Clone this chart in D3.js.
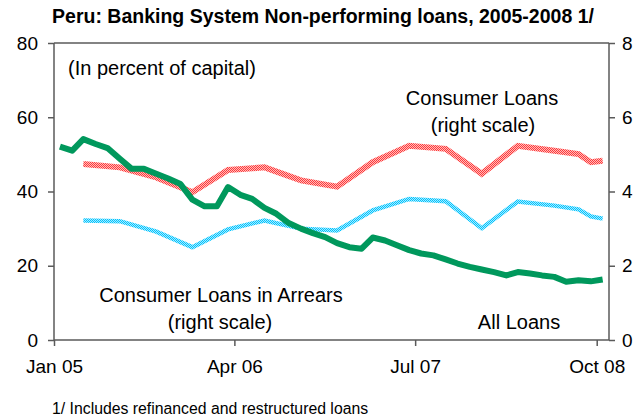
<!DOCTYPE html>
<html>
<head>
<meta charset="utf-8">
<script src="https://cdn.jsdelivr.net/npm/d3@7"></script>
<style>
  html, body { margin: 0; padding: 0; background: #fff; }
  svg { display: block; font-family: "Liberation Sans", Arial, sans-serif; }
</style>
</head>
<body>
<svg id="chart" width="640" height="420"></svg>
<script>
// ---- Data ----
const allLoansStart = "2005-01";
const allLoans = [52.1, 51.0, 54.1, 52.8, 51.7, 48.8, 46.1, 46.1, 44.8, 43.5,
  42.0, 37.8, 36.0, 36.0, 41.2, 39.1, 38.0, 35.6, 34.0, 31.5,
  30.0, 28.8, 27.7, 26.1, 25.0, 24.6, 27.6, 26.8, 25.5, 24.2,
  23.3, 22.8, 21.7, 20.6, 19.7, 19.0, 18.3, 17.4, 18.3, 17.9,
  17.4, 17.0, 15.7, 16.1, 15.8, 16.3];
const consumerMonths = ["2005-03", "2005-06", "2005-09", "2005-12", "2006-03", "2006-06",
  "2006-09", "2006-12", "2007-03", "2007-06", "2007-09", "2007-12", "2008-03",
  "2008-06", "2008-08", "2008-09", "2008-10"];
const consumerLoans = [4.74, 4.65, 4.38, 3.98, 4.58, 4.65, 4.30, 4.13, 4.79, 5.23,
  5.15, 4.48, 5.23, 5.10, 5.01, 4.79, 4.83];
const consumerArrears = [3.22, 3.20, 2.92, 2.50, 2.98, 3.22, 3.00, 2.95, 3.49, 3.80,
  3.74, 3.01, 3.73, 3.62, 3.52, 3.33, 3.27];
const leftTicks = [0, 20, 40, 60, 80];
const rightTicks = [0, 2, 4, 6, 8];
const xTickMonths = ["2005-01", "2006-04", "2007-07", "2008-10"];
const title = "Peru: Banking System Non-performing loans, 2005-2008 1/";
const footnote = "1/ Includes refinanced and restructured loans";

// ---- Setup ----
const parse = d3.timeParse("%Y-%m");
const mid = d => d3.timeDay.offset(d, 15);
const svg = d3.select("#chart");
const L = 54, R = 609, T = 43, B = 340;

const x = d3.scaleTime().domain([parse("2005-01"), parse("2008-11")]).range([L, R]);
const yL = d3.scaleLinear().domain([0, 80]).range([B, T]);
const yR = d3.scaleLinear().domain([0, 8]).range([B, T]);

const allDates = d3.timeMonth.range(parse(allLoansStart), d3.timeMonth.offset(parse(allLoansStart), allLoans.length));
const green = allLoans.map((v, i) => ({ d: mid(allDates[i]), v }));
const red = consumerLoans.map((v, i) => ({ d: mid(parse(consumerMonths[i])), v }));
const cyan = consumerArrears.map((v, i) => ({ d: mid(parse(consumerMonths[i])), v }));

// ---- Patterns ----
const defs = svg.append("defs");
function checker(id, c1, c2) {
  const p = defs.append("pattern").attr("id", id).attr("patternUnits", "userSpaceOnUse")
    .attr("width", 2).attr("height", 2);
  p.append("rect").attr("width", 2).attr("height", 2).attr("fill", c2);
  p.append("rect").attr("width", 1).attr("height", 1).attr("fill", c1);
  p.append("rect").attr("x", 1).attr("y", 1).attr("width", 1).attr("height", 1).attr("fill", c1);
}
checker("redCheck", "#ff3a3a", "#ffbcbc");
checker("cyanCheck", "#00c4ff", "#a8eaff");

// ---- Title ----
svg.append("text").attr("x", 323).attr("y", 23).attr("text-anchor", "middle")
  .attr("font-size", 19.5).attr("font-weight", "bold").attr("fill", "#000").text(title);

// ---- Axes ----
const axisColor = "#5a5a5a";
const gL = svg.append("g").attr("transform", `translate(${L},0)`)
  .call(d3.axisLeft(yL).tickValues(leftTicks).tickSize(6).tickPadding(10));
const gR = svg.append("g").attr("transform", `translate(${R},0)`)
  .call(d3.axisRight(yR).tickValues(rightTicks).tickSize(6).tickPadding(7));
const gB = svg.append("g").attr("transform", `translate(0,${B})`)
  .call(d3.axisBottom(x).tickValues(xTickMonths.map(parse)).tickFormat(d3.timeFormat("%b %y")).tickSize(6).tickPadding(14));
[gL, gR, gB].forEach(g => {
  g.select(".domain").attr("stroke", axisColor).attr("stroke-width", 1.5);
  g.selectAll(".tick line").attr("stroke", axisColor).attr("stroke-width", 1.5);
  g.selectAll(".tick text").attr("font-size", 19).attr("fill", "#000")
    .attr("font-family", "'Liberation Sans', Arial, sans-serif");
});
gL.select(".domain").attr("d", `M0,${T}V${B}`);
gR.select(".domain").attr("d", `M0,${T}V${B}`);
gB.select(".domain").attr("d", `M${L},0H${R}`);
svg.append("line").attr("x1", L).attr("x2", R).attr("y1", T).attr("y2", T)
  .attr("stroke", axisColor).attr("stroke-width", 1.5);

// ---- Lines ----
const lineL = d3.line().x(d => x(d.d)).y(d => yL(d.v));
const lineR = d3.line().x(d => x(d.d)).y(d => yR(d.v));
svg.append("path").datum(red).attr("d", lineR).attr("fill", "none")
  .attr("stroke", "url(#redCheck)").attr("stroke-width", 6).attr("stroke-linejoin", "miter");
svg.append("path").datum(cyan).attr("d", lineR).attr("fill", "none")
  .attr("stroke", "url(#cyanCheck)").attr("stroke-width", 4.5).attr("stroke-linejoin", "miter");
svg.append("path").datum(green).attr("d", lineL).attr("fill", "none")
  .attr("stroke", "#00985c").attr("stroke-width", 6).attr("stroke-linejoin", "round");

// ---- Annotations ----
const ann = [
  { t: "(In percent of capital)", x: 68, y: 75, a: "start" },
  { t: "Consumer Loans", x: 482, y: 105, a: "middle" },
  { t: "(right scale)", x: 483, y: 132, a: "middle" },
  { t: "Consumer Loans in Arrears", x: 221, y: 302, a: "middle" },
  { t: "(right scale)", x: 220, y: 329, a: "middle" },
  { t: "All Loans", x: 519, y: 329, a: "middle" }
];
svg.selectAll("text.ann").data(ann).join("text").attr("class", "ann")
  .attr("x", d => d.x).attr("y", d => d.y).attr("text-anchor", d => d.a)
  .attr("font-size", 20).attr("fill", "#000").text(d => d.t);

svg.append("text").attr("x", 52).attr("y", 414).attr("font-size", 15.8).attr("fill", "#000").text(footnote);
</script>
</body>
</html>
